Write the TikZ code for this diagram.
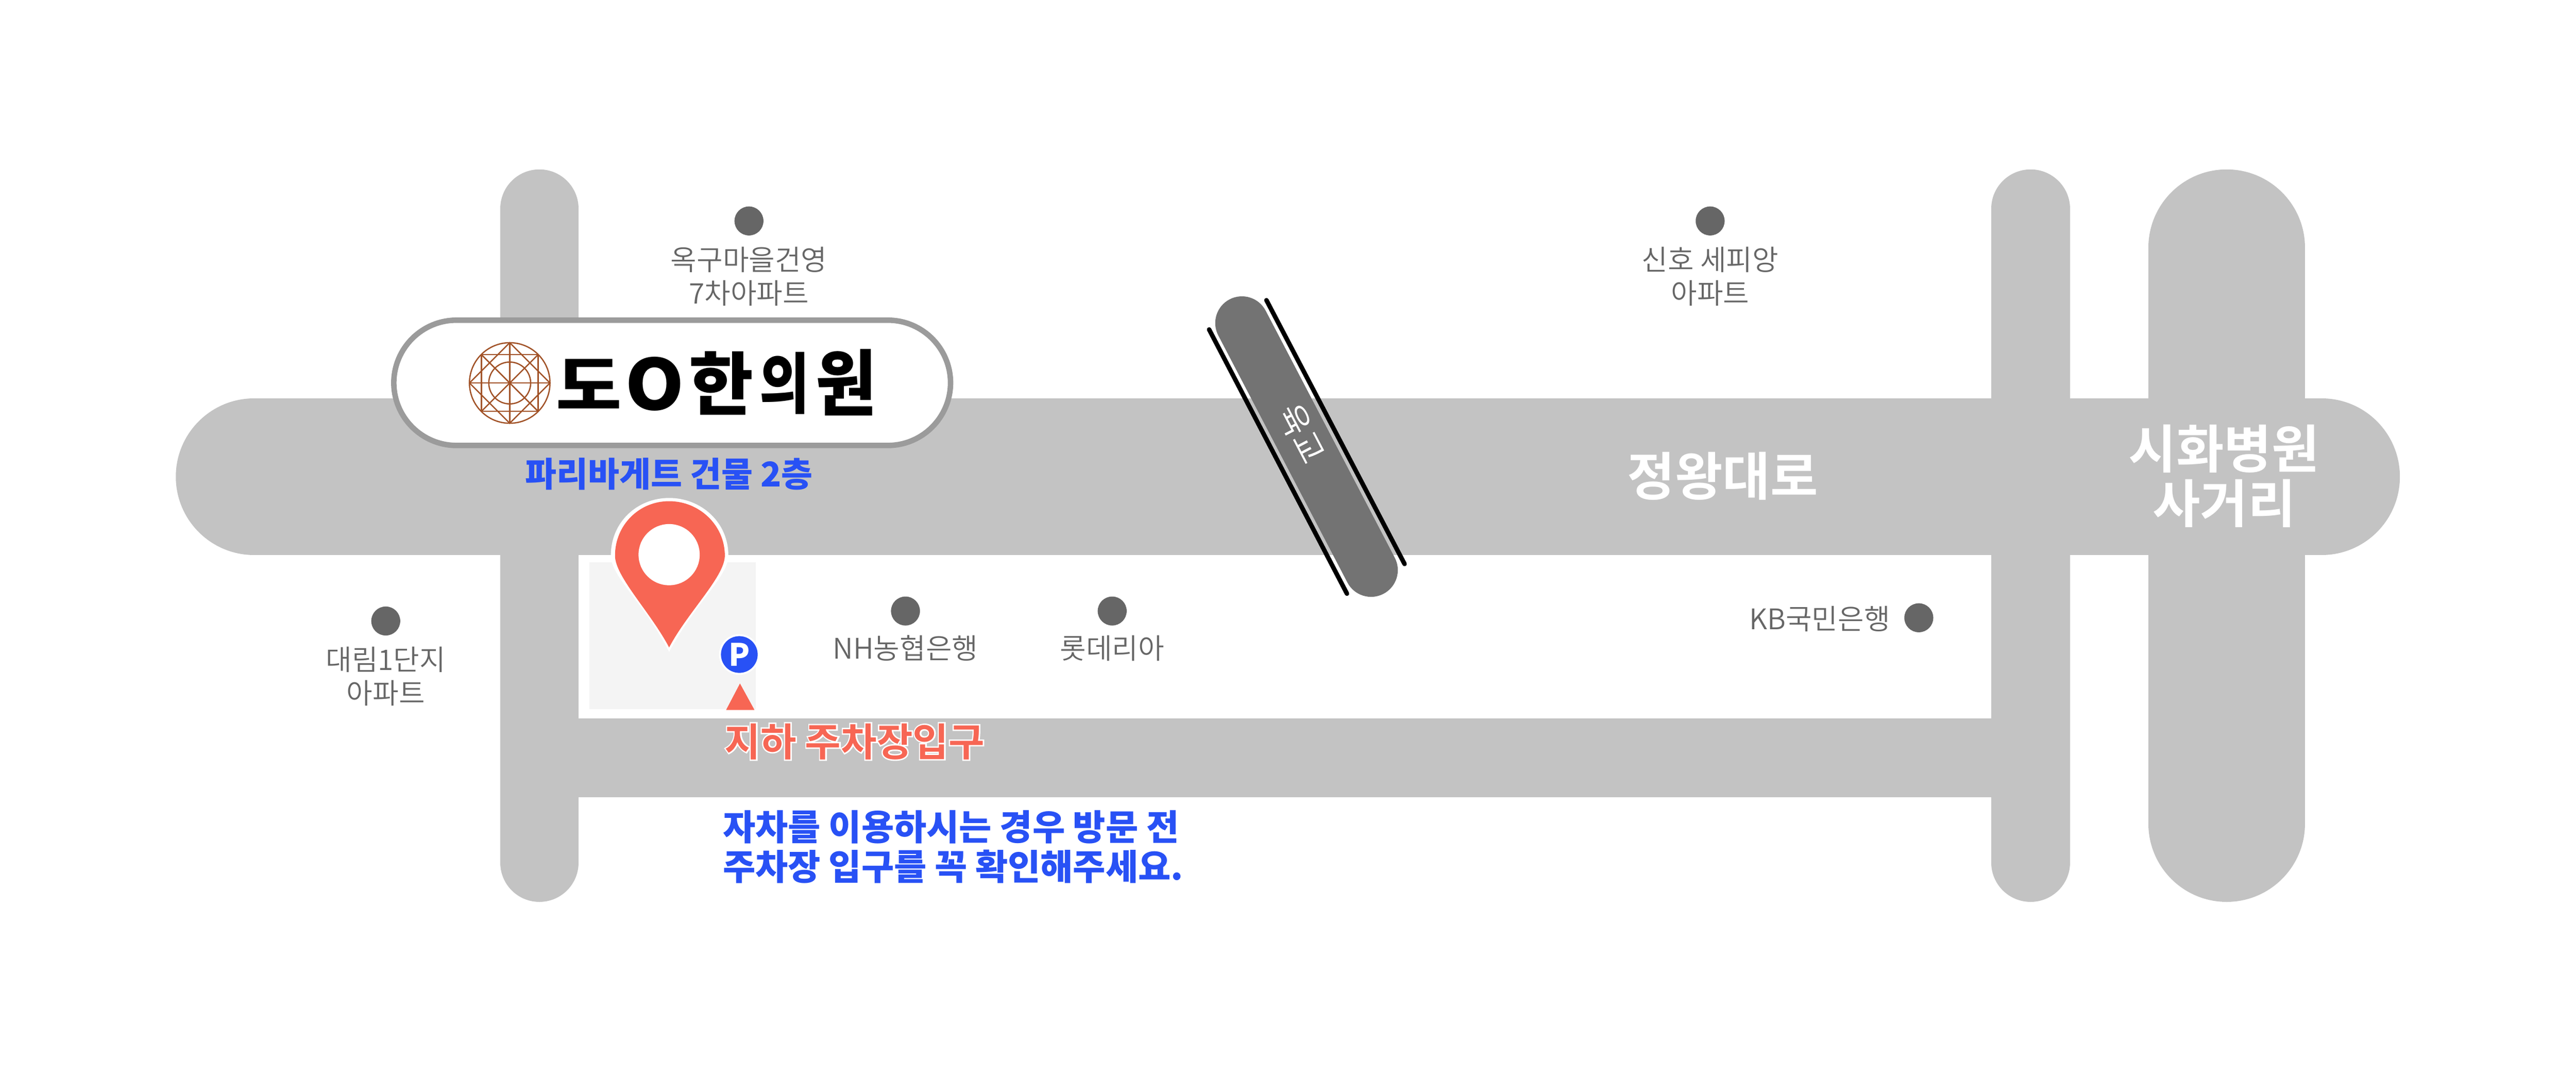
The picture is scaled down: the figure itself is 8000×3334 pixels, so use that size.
\documentclass[tikz,border=0pt]{standalone}
\usepackage{fontspec}
\setmainfont{Noto Sans CJK KR DemiLight}
\newfontfamily\krblack{Noto Sans CJK KR Black}
\newfontfamily\krbold{Noto Sans CJK KR Bold}
\newfontfamily\krrim[FakeBold=7]{Noto Sans CJK KR Bold}
\definecolor{roadgray}{HTML}{C3C3C3}
\definecolor{bridgegray}{HTML}{737373}
\definecolor{labelgray}{HTML}{666666}
\definecolor{pillgray}{HTML}{9B9B9B}
\definecolor{pinred}{HTML}{F76654}
\definecolor{noteblue}{HTML}{2851F5}
\definecolor{logobrown}{HTML}{A15227}
\definecolor{lotgray}{HTML}{F4F4F4}
\tikzset{
  road/.style={draw=roadgray, line cap=round},
  spot/.style={fill=labelgray},
  place/.style={labelgray, font=\fontsize{88}{104}\selectfont, align=center, inner sep=0pt},
  roadname/.style={white, font=\krbold\fontsize{161}{170}\selectfont, align=center, inner sep=0pt},
  note/.style={noteblue, font=\krblack\fontsize{110}{124}\selectfont, align=left, inner sep=0pt},
  logoline/.style={draw=logobrown, line width=4pt},
  logotext/.style={black, inner sep=0pt, font=\krblack\fontsize{205}{205}\selectfont}
}
\begin{document}
\begin{tikzpicture}[x=1pt, y=-1pt]
\useasboundingbox (0,0) rectangle (8000,3334);
% Roads
    \draw[road, line width=244pt] (1675,648) -- (1675,2678);
    \draw[road, line width=244pt] (6306,648) -- (6306,2678);
    \draw[road, line width=486pt] (6915,769) -- (6915,2557);
    \draw[road, line width=486pt] (789,1480) -- (7210,1480);
    \draw[road, line width=244pt, line cap=butt] (1675,2353) -- (6306,2353);
% Building
    \fill[lotgray] (1830,1745) rectangle (2347,2202);
% Overpass
    \draw[draw=bridgegray, line cap=round, line width=166pt] (3857,1003) -- (4258,1770);
    \draw[line cap=round, line width=14pt] (3755,1023) -- (4183,1843);
    \draw[line cap=round, line width=14pt] (3933,932) -- (4362,1751);
    \node[white, rotate=-62.4, inner sep=0pt, font=\fontsize{104}{104}\selectfont] (bridge) at (4042,1346) {육교};
% Signboard
    \draw[draw=pillgray, fill=white, line width=17pt, rounded corners=195pt] (1223,994) rectangle (2952,1383);
    \draw[logoline] (1583,1189) circle (125);
    \draw[logoline] (1583,1189) circle (65);
    \draw[logoline] (1495,1101) rectangle (1671,1277);
    \draw[logoline] (1583,1064) -- (1708,1189) -- (1583,1314) -- (1458,1189) -- cycle;
    \draw[logoline] (1583,1064) -- (1583,1314);
    \draw[logoline] (1458,1189) -- (1708,1189);
    \draw[logoline] (1495,1101) -- (1671,1277);
    \draw[logoline] (1495,1277) -- (1671,1101);
    \node[logotext, xscale=1.08, yscale=0.96] (logoa) at (1829,1193) {도};
    \node[logotext, xscale=1.14, yscale=1.06] (logob) at (2033,1192) {O};
    \node[logotext, xscale=1.06, yscale=1.04] (logoc) at (2240,1190) {한};
    \node[logotext, xscale=0.82] (logod) at (2436,1189) {의};
    \node[logotext, yscale=1.09] (logoe) at (2628,1188) {원};
% Spots
    \fill[spot] (2326,686) circle (45);
    \fill[spot] (5311,686) circle (45);
    \fill[spot] (1198,1928) circle (45);
    \fill[spot] (2812,1897) circle (45);
    \fill[spot] (3454,1897) circle (45);
    \fill[spot] (5959,1918) circle (45);
    \node[place] (okgu) at (2326,858) {옥구마을건영\\7차아파트};
    \node[place] (sinho) at (5311,858) {신호 세피앙\\아파트};
    \node[place] (daerim) at (1198,2100) {대림1단지\\아파트};
    \node[place] (nh) at (2812,2012) {NH농협은행};
    \node[place] (lotte) at (3454,2012) {롯데리아};
    \node[place, anchor=east] (kb) at (5870,1922) {KB국민은행};
% Road names
    \node[roadname] (wangro) at (5350,1478) {정왕대로};
    \node[roadname] (sihwa) at (6907,1478) {시화병원\\사거리};
% Pin
    \fill[white] (2078,2024) .. controls (2000,1870) and (1897,1790) .. (1897,1725) .. controls (1897,1620) and (1980,1546) .. (2078,1546) .. controls (2176,1546) and (2262,1620) .. (2262,1725) .. controls (2262,1790) and (2160,1870) .. (2078,2024) -- cycle;
    \fill[pinred] (2078,2010) .. controls (2020,1900) and (1910,1790) .. (1910,1725) .. controls (1910,1630) and (1985,1556) .. (2078,1556) .. controls (2171,1556) and (2251,1630) .. (2251,1725) .. controls (2251,1790) and (2136,1900) .. (2078,2010) -- cycle;
    \fill[white] (2078,1722) circle (95);
    \node[noteblue, font=\krblack\fontsize{106}{106}\selectfont, inner sep=0pt] (bakery) at (2078,1472) {파리바게트 건물 2층};
% Parking
    \fill[white] (2296,2032) circle (63);
    \fill[noteblue] (2296,2032) circle (57);
    \node[white, inner sep=0pt, font=\krblack\fontsize{96}{96}\selectfont] (parking) at (2296,2032) {P};
    \fill[pinred] (2298,2122) -- (2343,2204) -- (2255,2204) -- cycle;
    \node[white, inner sep=0pt, font=\krrim\fontsize{121}{121}\selectfont] (entryrim) at (2654,2302) {지하 주차장입구};
    \node[pinred, inner sep=0pt, font=\krbold\fontsize{121}{121}\selectfont] (entry) at (2654,2302) {지하 주차장입구};
% Note
    \node[note, anchor=north west] (notice) at (2245,2515) {자차를 이용하시는 경우 방문 전\\주차장 입구를 꼭 확인해주세요.};
\end{tikzpicture}
\end{document}
